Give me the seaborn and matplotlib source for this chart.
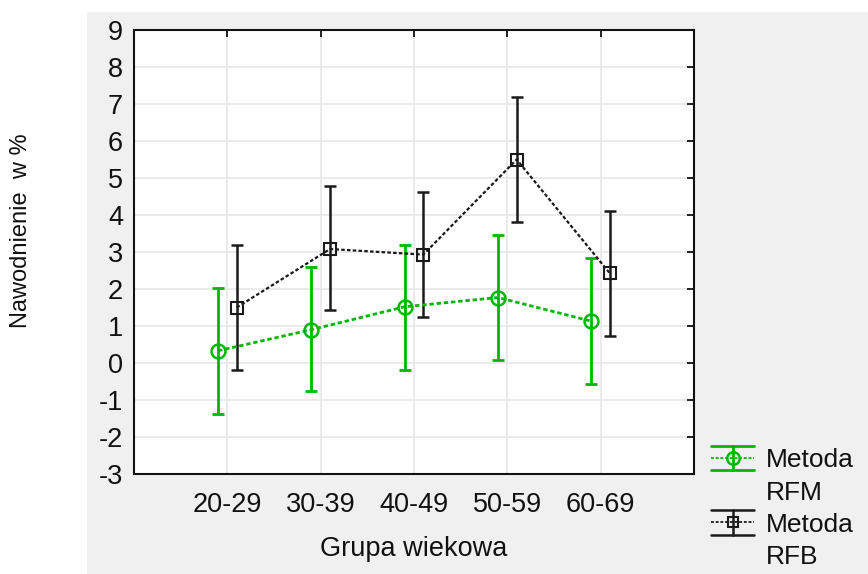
import numpy as np
import pandas as pd
import matplotlib
matplotlib.use("Agg")
import matplotlib.pyplot as plt
from matplotlib.lines import Line2D
from matplotlib.patches import Rectangle
import seaborn as sns

# ---- data ----
age_groups = ["20-29", "30-39", "40-49", "50-59", "60-69"]
rfm_mean = [0.33, 0.90, 1.52, 1.77, 1.13]
rfm_low = [-1.37, -0.77, -0.18, 0.07, -0.56]
rfm_high = [2.03, 2.60, 3.20, 3.47, 2.83]
rfb_mean = [1.50, 3.08, 2.93, 5.50, 2.42]
rfb_low = [-0.18, 1.42, 1.25, 3.80, 0.73]
rfb_high = [3.20, 4.78, 4.63, 7.18, 4.12]
series_labels = ["Metoda\nRFM", "Metoda\nRFB"]
y_ticks = list(range(-3, 10))

sns.set_theme(style="white")
plt.rcParams['font.family'] = ['Liberation Sans', 'DejaVu Sans']
plt.rcParams['axes.unicode_minus'] = False

GREEN = "#00b800"
BLACK = "#1a1a1a"

fig = plt.figure(figsize=(8.68, 5.74), dpi=100)
fig.patch.set_facecolor("white")
fig.patches.append(Rectangle((87 / 868, 0), 1 - 87 / 868, 1 - 12 / 574,
                             transform=fig.transFigure, facecolor="#f0f0f0",
                             edgecolor="none", zorder=-10))

ax = fig.add_axes([134 / 868, 1 - 474 / 574, (694 - 134) / 868, (474 - 30) / 574])
ax.set_facecolor("white")

pos = np.arange(1, len(age_groups) + 1)
off = 0.1
df = pd.DataFrame({
    "x": np.concatenate([pos - off, pos + off]),
    "y": rfm_mean + rfb_mean,
    "series": [series_labels[0]] * 5 + [series_labels[1]] * 5,
})

specs = [
    dict(color=GREEN, marker="o", ms=10, lw=2.0, elw=2.0, mew=1.8, dash=(1.6, 1.0),
         low=rfm_low, high=rfm_high, mean=rfm_mean, x=pos - off),
    dict(color=BLACK, marker="s", ms=8, lw=1.6, elw=1.8, mew=1.5, dash=(1.6, 1.0),
         low=rfb_low, high=rfb_high, mean=rfb_mean, x=pos + off),
]

for lab, sp in zip(series_labels, specs):
    sub = df[df["series"] == lab]
    sns.lineplot(data=sub, x="x", y="y", ax=ax, color=sp["color"], lw=sp["lw"],
                 marker=sp["marker"], markersize=sp["ms"], markerfacecolor="none",
                 markeredgecolor=sp["color"], markeredgewidth=sp["mew"],
                 dashes=False, legend=False, zorder=4, sort=False)
    ax.lines[-1].set_dashes(sp["dash"])
    mean = np.array(sp["mean"])
    yerr = np.vstack([mean - np.array(sp["low"]), np.array(sp["high"]) - mean])
    ax.errorbar(sp["x"], mean, yerr=yerr, fmt="none", ecolor=sp["color"],
                elinewidth=sp["elw"], capsize=4.5, capthick=sp["elw"], zorder=3)

ax.set_xlim(0, 6)
ax.set_ylim(-3, 9)
ax.set_xticks(pos)
ax.set_xticklabels(age_groups)
ax.set_yticks(y_ticks)
ax.grid(True, color="#e9e9e9", lw=1.3)
ax.set_axisbelow(True)
for s in ax.spines.values():
    s.set_color("#111111")
    s.set_linewidth(1.5)
ax.tick_params(axis="both", direction="in", length=5, width=1.3, colors="#111111",
               top=True, right=True, labelsize=19.5, labelcolor="#111111")
ax.tick_params(axis="x", pad=13)
ax.tick_params(axis="y", pad=8)

ax.set_xlabel("Grupa wiekowa", fontsize=19.5, color="#111111", labelpad=13)
ax.set_ylabel("Nawodnienie  w %", fontsize=17, color="#111111")
ax.yaxis.set_label_coords((32 - 134) / 560, (474 - 231) / 444)


class ErrHandler:
    def __init__(self, sp):
        self.sp = sp

    def legend_artist(self, legend, orig_handle, fontsize, handlebox):
        sp = self.sp
        x0, y0 = -handlebox.xdescent, -handlebox.ydescent
        w, h = handlebox.width, handlebox.height
        cy = y0 + h / 2 + 0.72 * fontsize
        half = 0.47 * fontsize
        tr = handlebox.get_transform()
        arts = [
            Line2D([x0, x0 + w], [cy + half] * 2, color=sp["color"], lw=sp["elw"]),
            Line2D([x0, x0 + w], [cy - half] * 2, color=sp["color"], lw=sp["elw"]),
            Line2D([x0 + w / 2] * 2, [cy - half, cy + half], color=sp["color"], lw=sp["elw"]),
            Line2D([x0, x0 + w], [cy, cy], color=sp["color"], lw=1.3, dashes=(1.6, 1.0)),
            Line2D([x0 + w / 2], [cy], color=sp["color"], marker=sp["marker"],
                   markersize=sp["ms"] * 0.9, markerfacecolor="none",
                   markeredgewidth=sp["mew"], linestyle="none"),
        ]
        for a in arts:
            a.set_transform(tr)
            handlebox.add_artist(a)
        return arts[0]


proxies = [Line2D([], [], color=sp["color"]) for sp in specs]
leg = fig.legend(proxies, series_labels, loc="upper left",
                 bbox_to_anchor=(693 / 868, 1 - 430 / 574), frameon=False,
                 fontsize=19, handlelength=1.62, handletextpad=0.45, labelspacing=0.3,
                 borderpad=0.2,
                 handler_map={proxies[0]: ErrHandler(specs[0]), proxies[1]: ErrHandler(specs[1])})
for t in leg.get_texts():
    t.set_linespacing(1.45)
    t.set_color("#111111")

fig.savefig("out.png", dpi=100)
